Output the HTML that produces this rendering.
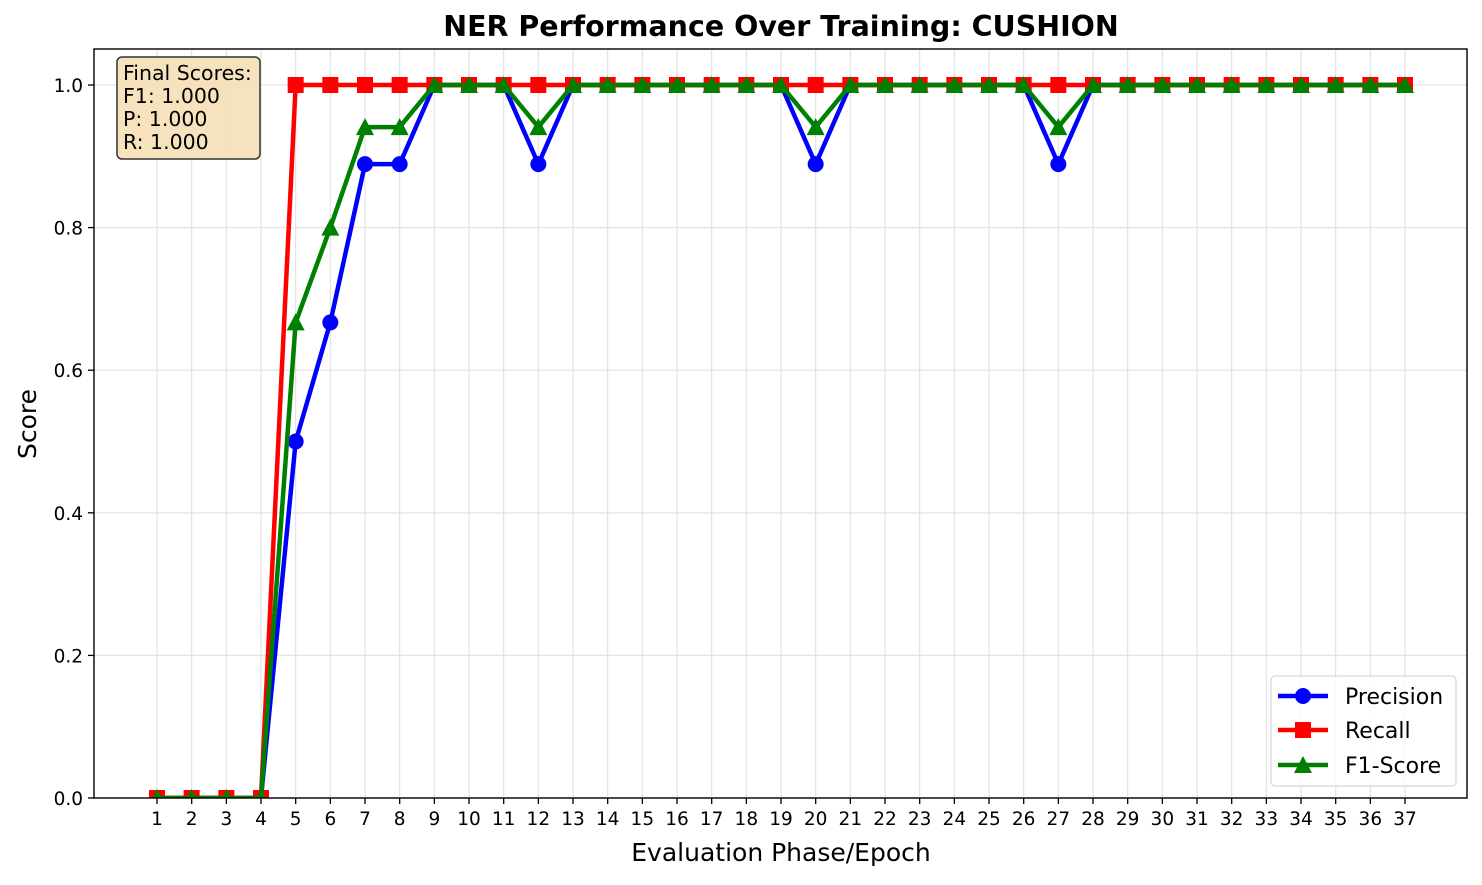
<!DOCTYPE html>
<html><head><meta charset="utf-8"><style>
body{margin:0;background:#fff;}
text{font-family:"DejaVu Sans","Liberation Sans",sans-serif;}
</style></head><body>
<svg id="chart" width="1482" height="880" xmlns="http://www.w3.org/2000/svg">
<defs><clipPath id="plotclip"><rect x="94" y="49" width="1373" height="749"/></clipPath></defs>
<rect width="1482" height="880" fill="#fff"/>
<g id="grid"></g>
<g id="series" clip-path="url(#plotclip)"></g>
<g id="axes"></g>
<text x="781" y="36" text-anchor="middle" font-size="28.5" font-weight="bold">NER Performance Over Training: CUSHION</text>
<text x="781" y="861" text-anchor="middle" font-size="25">Evaluation Phase/Epoch</text>
<text x="36" y="424" text-anchor="middle" font-size="25" transform="rotate(-90 36 424)">Score</text>
<g>
<rect x="117" y="57" width="143" height="102" rx="5" fill="#f5deb3" fill-opacity="0.85" stroke="#333" stroke-width="1.5"/>
<text x="123" y="80" font-size="20.5">Final Scores:</text>
<text x="123" y="103" font-size="20.5">F1: 1.000</text>
<text x="123" y="126" font-size="20.5">P: 1.000</text>
<text x="123" y="149" font-size="20.5">R: 1.000</text>
</g>
<g>
<rect x="1271" y="676" width="185" height="110" rx="4" fill="#fff" fill-opacity="0.8" stroke="#ccc" stroke-width="1"/>
<g>
<line x1="1278" y1="696" x2="1328" y2="696" stroke="blue" stroke-width="4.5"/><circle cx="1303" cy="696" r="8" fill="blue"/>
<text x="1345" y="704" font-size="22">Precision</text></g>
<g>
<line x1="1278" y1="730" x2="1328" y2="730" stroke="red" stroke-width="4.5"/><rect x="1295" y="722" width="16" height="16" fill="red"/>
<text x="1345" y="738" font-size="22">Recall</text></g>
<g>
<line x1="1278" y1="765" x2="1328" y2="765" stroke="green" stroke-width="4.5"/><polygon points="1303,756 1312,773 1294,773" fill="green"/>
<text x="1345" y="773" font-size="22">F1-Score</text></g>
</g>
</svg>
<script>
const epochs = Array.from({length:37},(_,i)=>i+1);
const precision = [0,0,0,0,0.5,0.667,0.889,0.889,1,1,1,0.889,1,1,1,1,1,1,1,0.889,1,1,1,1,1,1,0.889,1,1,1,1,1,1,1,1,1,1];
const recall = [0,0,0,0,1,1,1,1,1,1,1,1,1,1,1,1,1,1,1,1,1,1,1,1,1,1,1,1,1,1,1,1,1,1,1,1,1];
const f1 = [0,0,0,0,0.667,0.8,0.941,0.941,1,1,1,0.941,1,1,1,1,1,1,1,0.941,1,1,1,1,1,1,0.941,1,1,1,1,1,1,1,1,1,1];
const yTicks = [0,0.2,0.4,0.6,0.8,1.0];

const NS="http://www.w3.org/2000/svg";
const L=94,R=1467,T=49,B=798;
const xs=e=>157+(e-1)*(1405-157)/36;
const ys=v=>798-v*713;
function mk(tag,attrs,parent){const el=document.createElementNS(NS,tag);for(const k in attrs)el.setAttribute(k,attrs[k]);parent.appendChild(el);return el;}
const grid=document.getElementById('grid'),axes=document.getElementById('axes'),ser=document.getElementById('series');
epochs.forEach(e=>{
  const g=mk('line',{x1:xs(e),x2:xs(e),y1:T,y2:B,stroke:'#e3e3e3','stroke-width':1.2},grid);
  
  
  mk('line',{x1:xs(e),x2:xs(e),y1:B,y2:B+6,stroke:'#000','stroke-width':1.3},axes);
  const t=mk('text',{x:xs(e),y:B+27,'text-anchor':'middle','font-size':18.5},axes);t.textContent=e;
  
  
});
yTicks.forEach(v=>{
  const g=mk('line',{x1:L,x2:R,y1:ys(v),y2:ys(v),stroke:'#e3e3e3','stroke-width':1.2},grid);
  
  
  mk('line',{x1:L-6,x2:L,y1:ys(v),y2:ys(v),stroke:'#000','stroke-width':1.3},axes);
  const t=mk('text',{x:L-11,y:ys(v)+7,'text-anchor':'end','font-size':18.5},axes);t.textContent=v.toFixed(1);
  
  
});
const frame=mk('rect',{x:L,y:T,width:R-L,height:B-T,fill:'none',stroke:'#000','stroke-width':1.4},axes);


function series(vals,color,marker,name){
  const g=mk('g',{},ser);
  
  
  mk('polyline',{points:vals.map((v,i)=>xs(epochs[i])+','+ys(v)).join(' '),fill:'none',stroke:color,'stroke-width':4.5,'stroke-linejoin':'round'},g);
  vals.forEach((v,i)=>{const x=xs(epochs[i]),y=ys(v);
    if(marker==='o')mk('circle',{cx:x,cy:y,r:8,fill:color},g);
    else if(marker==='s')mk('rect',{x:x-8,y:y-8,width:16,height:16,fill:color},g);
    else mk('polygon',{points:`${x},${y-9} ${x+9},${y+8} ${x-9},${y+8}`,fill:color},g);
  });
}
series(precision,'blue','o','precision-series');
series(recall,'red','s','recall-series');
series(f1,'green','^','f1-series');
</script>
</body></html>
